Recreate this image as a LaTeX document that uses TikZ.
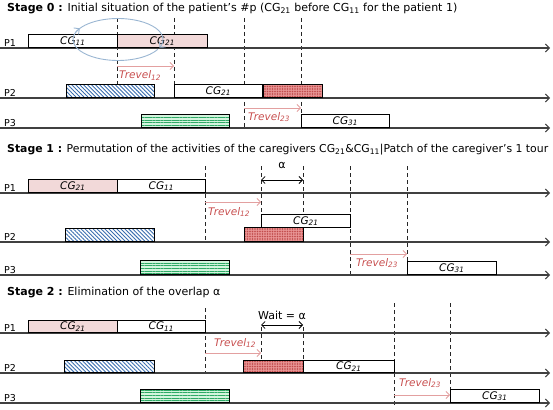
\documentclass[tikz,border=0pt]{standalone}
\usepackage{fontspec}
\usepackage{graphicx}
\setmainfont{DejaVu Sans}
\usetikzlibrary{arrows.meta,patterns.meta}
\definecolor{pinkc}{HTML}{F2D9D9}
\definecolor{axisc}{HTML}{404040}
\definecolor{travc}{HTML}{E3A0A0}
\definecolor{travt}{HTML}{C85050}
\definecolor{ellc}{HTML}{9AB6D2}
\definecolor{hatchc}{HTML}{3A6EB0}
\definecolor{greenbg}{HTML}{D4F4DE}
\definecolor{greenln}{HTML}{2EAA66}
\definecolor{redbg}{HTML}{E89494}
\definecolor{reddt}{HTML}{C04A4A}
\begin{document}
\begin{tikzpicture}[x=1pt,y=-1pt,
  axisln/.style={draw=axisc, line width=1.1pt, -{Straight Barb[length=4pt,width=8pt,line width=1pt]}},
  dashln/.style={draw=black!85, line width=1pt, dash pattern=on 4pt off 3pt},
  cgbox/.style={draw=black, line width=0.8pt, fill=white, inner sep=0pt, minimum height=13pt, anchor=south west, font=\fontsize{10.5}{11}\selectfont\itshape},
  pinkbox/.style={cgbox, fill=pinkc},
  hatchbox/.style={cgbox, fill=none, preaction={fill=white}, pattern={Lines[angle=-45,distance=2.8pt,line width=0.9pt]}, pattern color=hatchc},
  greenbox/.style={cgbox, fill=none, preaction={fill=greenbg}, pattern={Lines[angle=0,distance=2.7pt,line width=1pt]}, pattern color=greenln},
  redbox/.style={cgbox, fill=none, preaction={fill=redbg}, pattern={Dots[distance=2.5pt,radius=0.8pt]}, pattern color=reddt},
  plabel/.style={anchor=base west, inner sep=0pt, font=\fontsize{9.5}{10}\selectfont},
  title/.style={anchor=west, inner sep=0pt, font=\fontsize{11}{12}\selectfont},
  travel/.style={draw=travc, line width=0.8pt, -{Straight Barb[length=3.5pt,width=7pt,line width=0.8pt]}},
  travlab/.style={anchor=west, inner sep=0pt, text=travt, font=\fontsize{10.5}{11}\selectfont\itshape},
  dblarrow/.style={draw=black, line width=0.8pt, {Straight Barb[length=3.5pt,width=7pt,line width=0.8pt]}-{Straight Barb[length=3.5pt,width=7pt,line width=0.8pt]}},
  alab/.style={inner sep=0pt, font=\fontsize{11}{12}\selectfont}
]
\useasboundingbox (0,0) rectangle (553,409);

% ================= Stage 0 =================
\node[title] (title0) at (7,9) {\textbf{Stage 0 :} Initial situation of the patient’s \#p (CG\textsubscript{21} before CG\textsubscript{11} for the patient 1)};

% dashed guides
\coordinate (a0t) at (117,18); \coordinate (a0b) at (117,98);
\coordinate (b0t) at (174,18); \coordinate (b0b) at (174,98);
\coordinate (c0t) at (244,18); \coordinate (c0b) at (244,128);
\coordinate (d0t) at (301,18); \coordinate (d0b) at (301,128);
\draw[dashln] (a0t) -- (a0b);
\draw[dashln] (b0t) -- (b0b);
\draw[dashln] (c0t) -- (c0b);
\draw[dashln] (d0t) -- (d0b);

% axes
\coordinate (x01s) at (0,48);  \coordinate (x01e) at (550,48);
\coordinate (x02s) at (0,98);  \coordinate (x02e) at (550,98);
\coordinate (x03s) at (0,128); \coordinate (x03e) at (550,128);
\draw[axisln] (x01s) -- (x01e);
\draw[axisln] (x02s) -- (x02e);
\draw[axisln] (x03s) -- (x03e);
\node[plabel] (p01) at (4,46.5) {P1};
\node[plabel] (p02) at (4,96.5) {P2};
\node[plabel] (p03) at (4,126.5) {P3};

% boxes
\node[cgbox, minimum width=89pt] (s0a) at (28,48) {CG\textsubscript{11}};
\node[pinkbox, minimum width=90pt] (s0b) at (117,48) {CG\textsubscript{21}};
\node[hatchbox, minimum width=88pt] (s0c) at (66,98) {};
\node[cgbox, minimum width=88pt] (s0d) at (174,98) {CG\textsubscript{21}};
\node[redbox, minimum width=59pt] (s0e) at (263,98) {};
\node[greenbox, minimum width=88pt] (s0f) at (141,128) {};
\node[cgbox, minimum width=88pt] (s0g) at (301,128) {CG\textsubscript{31}};

% swap ellipse
\coordinate (ell0) at (118,39.5);
\draw[draw=ellc, line width=0.9pt, -{Straight Barb[length=4pt,width=8pt,line width=0.9pt]}]
  (ell0) ++(200:45 and 21) arc[start angle=200, end angle=383, x radius=45, y radius=21];
\draw[draw=ellc, line width=0.9pt, -{Straight Barb[length=4pt,width=8pt,line width=0.9pt]}]
  (ell0) ++(28:45 and 21) arc[start angle=28, end angle=212, x radius=45, y radius=21];

% travel
\coordinate (t01s) at (117,66); \coordinate (t01e) at (174,66);
\draw[travel] (t01s) -- (t01e);
\node[travlab] (tl01) at (119,75.5) {Trevel\textsubscript{12}};
\coordinate (t02s) at (244,108); \coordinate (t02e) at (301,108);
\draw[travel] (t02s) -- (t02e);
\node[travlab] (tl02) at (248,117) {Trevel\textsubscript{23}};

% ================= Stage 1 =================
\node[title] (title1) at (7,150) {\resizebox{541pt}{!}{\textbf{Stage 1 :} Permutation of the activities of the caregivers CG\textsubscript{21}\&CG\textsubscript{11}|Patch of the caregiver’s 1 tour}};

\coordinate (a1t) at (205,166); \coordinate (a1b) at (205,242);
\coordinate (b1t) at (261,166); \coordinate (b1b) at (261,215);
\coordinate (c1t) at (303,166); \coordinate (c1b) at (303,228);
\coordinate (d1t) at (350,166); \coordinate (d1b) at (350,275);
\coordinate (e1t) at (407,166); \coordinate (e1b) at (407,262);
\draw[dashln] (a1t) -- (a1b);
\draw[dashln] (b1t) -- (b1b);
\draw[dashln] (c1t) -- (c1b);
\draw[dashln] (d1t) -- (d1b);
\draw[dashln] (e1t) -- (e1b);

\coordinate (x11s) at (0,193); \coordinate (x11e) at (550,193);
\coordinate (x12s) at (0,242); \coordinate (x12e) at (550,242);
\coordinate (x13s) at (0,275); \coordinate (x13e) at (550,275);
\draw[axisln] (x11s) -- (x11e);
\draw[axisln] (x12s) -- (x12e);
\draw[axisln] (x13s) -- (x13e);
\node[plabel] (p11) at (4,191.5) {P1};
\node[plabel] (p12) at (4,240.5) {P2};
\node[plabel] (p13) at (4,273.5) {P3};

\node[pinkbox, minimum width=89pt] (s1a) at (28,193) {CG\textsubscript{21}};
\node[cgbox, minimum width=88pt] (s1b) at (117,193) {CG\textsubscript{11}};
\node[hatchbox, minimum width=89pt] (s1c) at (65,242) {};
\node[cgbox, minimum width=89pt] (s1d) at (261,228) {CG\textsubscript{21}};
\node[redbox, minimum width=59pt, minimum height=14pt] (s1e) at (244,242) {};
\node[greenbox, minimum width=89pt, minimum height=14pt] (s1f) at (140,275) {};
\node[cgbox, minimum width=89pt] (s1g) at (407,275) {CG\textsubscript{31}};

\draw[dblarrow] (b1t |- 0,180) -- (c1t |- 0,180);
\node[alab] (al1) at (282,165) {α};

\coordinate (t11s) at (205,202); \coordinate (t11e) at (261,202);
\draw[travel] (t11s) -- (t11e);
\node[travlab] (tl11) at (208,212) {Trevel\textsubscript{12}};
\coordinate (t12s) at (350,254); \coordinate (t12e) at (407,254);
\draw[travel] (t12s) -- (t12e);
\node[travlab] (tl12) at (356,263) {Trevel\textsubscript{23}};

% ================= Stage 2 =================
\node[title] (title2) at (7,293) {\textbf{Stage 2 :} Elimination of the overlap α};

\coordinate (a2t) at (205,308); \coordinate (a2b) at (205,373);
\coordinate (b2t) at (261,327); \coordinate (b2b) at (261,373);
\coordinate (c2t) at (303,327); \coordinate (c2b) at (303,361);
\coordinate (d2t) at (394,303); \coordinate (d2b) at (394,406);
\coordinate (e2t) at (450,303); \coordinate (e2b) at (450,390);
\draw[dashln] (a2t) -- (a2b);
\draw[dashln] (b2t) -- (b2b);
\draw[dashln] (c2t) -- (c2b);
\draw[dashln] (d2t) -- (d2b);
\draw[dashln] (e2t) -- (e2b);

\coordinate (x21s) at (0,333); \coordinate (x21e) at (550,333);
\coordinate (x22s) at (0,373); \coordinate (x22e) at (550,373);
\coordinate (x23s) at (0,403); \coordinate (x23e) at (550,403);
\draw[axisln] (x21s) -- (x21e);
\draw[axisln] (x22s) -- (x22e);
\draw[axisln] (x23s) -- (x23e);
\node[plabel] (p21) at (4,331.5) {P1};
\node[plabel] (p22) at (4,371.5) {P2};
\node[plabel] (p23) at (4,401.5) {P3};

\node[pinkbox, minimum width=89pt, minimum height=12pt] (s2a) at (28,333) {CG\textsubscript{21}};
\node[cgbox, minimum width=88pt, minimum height=12pt] (s2b) at (117,333) {CG\textsubscript{11}};
\node[hatchbox, minimum width=90pt, minimum height=12pt] (s2c) at (64,373) {};
\node[redbox, minimum width=60pt, minimum height=12pt] (s2e) at (243,373) {};
\node[cgbox, minimum width=91pt, minimum height=12pt] (s2d) at (303,373) {CG\textsubscript{21}};
\node[greenbox, minimum width=89pt] (s2f) at (140,403) {};
\node[cgbox, minimum width=89pt] (s2g) at (450,403) {CG\textsubscript{31}};

\draw[dblarrow] (b2t |- 0,325) -- (c2t |- 0,325);
\node[alab] (al2) at (282,315) {Wait = α};

\coordinate (t21s) at (205,353); \coordinate (t21e) at (261,353);
\draw[travel] (t21s) -- (t21e);
\node[travlab] (tl21) at (214,343) {Trevel\textsubscript{12}};
\coordinate (t22s) at (394,395); \coordinate (t22e) at (450,395);
\draw[travel] (t22s) -- (t22e);
\node[travlab] (tl22) at (399,383) {Trevel\textsubscript{23}};
\end{tikzpicture}
\end{document}
